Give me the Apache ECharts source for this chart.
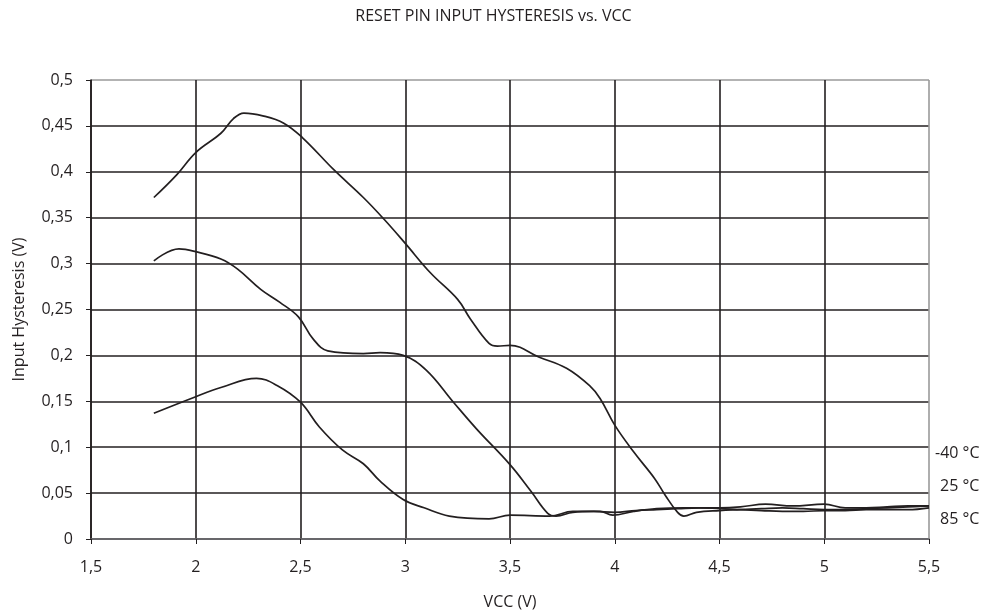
<!DOCTYPE html>
<html><head><meta charset="utf-8">
<script src="https://cdn.jsdelivr.net/npm/echarts@6/dist/echarts.min.js"></script>
<style>html,body{margin:0;padding:0;background:#fff}#c{width:987px;height:615px}</style>
</head><body><div id="c"></div>
<script>
const title = 'RESET PIN INPUT HYSTERESIS vs. VCC';
const xName = 'VCC (V)';
const yName = 'Input Hysteresis (V)';
const seriesNames = ['-40 °C', '25 °C', '85 °C'];

const vccA = [1.8, 1.91, 2.0, 2.12, 2.18, 2.23, 2.32, 2.42, 2.51, 2.66, 2.8, 2.9, 3.0, 3.12, 3.25, 3.31, 3.40, 3.44, 3.5, 3.64, 3.77, 3.88, 3.93, 4.0, 4.09, 4.19, 4.24, 4.30, 4.33, 4.39, 4.5, 4.6, 4.7, 4.8, 4.9, 5.0, 5.1, 5.2, 5.3, 5.4, 5.5];
const hystA = [0.372, 0.397, 0.421, 0.442, 0.458, 0.464, 0.461, 0.453, 0.437, 0.402, 0.372, 0.348, 0.322, 0.29, 0.261, 0.240, 0.213, 0.210, 0.211, 0.198, 0.186, 0.167, 0.153, 0.124, 0.095, 0.066, 0.048, 0.029, 0.025, 0.029, 0.031, 0.032, 0.033, 0.034, 0.033, 0.032, 0.032, 0.033, 0.034, 0.035, 0.036];

const vccB = [1.8, 1.92, 2.0, 2.12, 2.2, 2.31, 2.4, 2.49, 2.56, 2.63, 2.8, 2.88, 2.99, 3.1, 3.23, 3.34, 3.5, 3.6, 3.68, 3.72, 3.8, 3.9, 4.0, 4.1, 4.2, 4.3, 4.4, 4.5, 4.6, 4.72, 4.85, 5.0, 5.1, 5.2, 5.3, 5.4, 5.5];
const hystB = [0.303, 0.316, 0.313, 0.305, 0.294, 0.272, 0.258, 0.242, 0.218, 0.205, 0.202, 0.203, 0.200, 0.184, 0.149, 0.120, 0.081, 0.052, 0.028, 0.025, 0.029, 0.030, 0.029, 0.031, 0.032, 0.033, 0.034, 0.034, 0.035, 0.038, 0.036, 0.038, 0.034, 0.034, 0.035, 0.036, 0.036];

const vccC = [1.8, 2.0, 2.12, 2.29, 2.39, 2.5, 2.59, 2.7, 2.8, 2.88, 2.99, 3.09, 3.21, 3.4, 3.5, 3.69, 3.8, 3.93, 3.99, 4.09, 4.2, 4.33, 4.41, 4.5, 4.6, 4.7, 4.8, 4.9, 5.0, 5.1, 5.2, 5.3, 5.4, 5.5];
const hystC = [0.137, 0.155, 0.165, 0.175, 0.167, 0.149, 0.122, 0.097, 0.082, 0.063, 0.043, 0.034, 0.025, 0.022, 0.026, 0.025, 0.030, 0.030, 0.026, 0.030, 0.033, 0.034, 0.034, 0.033, 0.032, 0.031, 0.030, 0.030, 0.031, 0.031, 0.032, 0.032, 0.032, 0.034];

const dark = '#231f20';
const gray = '#9a9a9a';
const font = '"Open Sans", "Noto Sans", sans-serif';
const fmt = v => String(+v.toFixed(2)).replace('.', ',');

function pairs(xs, ys){ return xs.map((x,i)=>[x, ys[i]]); }
const datasets = [pairs(vccA,hystA), pairs(vccB,hystB), pairs(vccC,hystC)];

const chart = echarts.init(document.getElementById('c'), null, {renderer:'canvas'});
chart.setOption({
  backgroundColor:'#fff',
  animation:false,
  title:{text:title, left:'center', top:3, textStyle:{fontFamily:font, fontSize:16, fontWeight:'normal', color:dark}},
  grid:{left:91, right:58, top:80, bottom:74, show:false},
  xAxis:{type:'value', min:1.5, max:5.5, interval:0.5,
    name:xName, nameLocation:'middle', nameGap:55, nameTextStyle:{fontFamily:font, fontSize:16, color:dark},
    axisLine:{show:true, lineStyle:{color:'#6d6e71', width:1.6}},
    axisTick:{show:true, length:5, lineStyle:{color:dark}},
    axisLabel:{formatter:fmt, fontFamily:font, fontSize:16, color:dark, margin:20},
    splitLine:{show:true, lineStyle:{color:[dark,dark,dark,dark,dark,dark,dark,dark,gray], width:1.6}}},
  yAxis:{type:'value', min:0, max:0.5, interval:0.05,
    name:yName, nameLocation:'middle', nameGap:64, nameTextStyle:{fontFamily:font, fontSize:16, color:dark},
    axisLine:{show:true, lineStyle:{color:dark, width:1.6}},
    axisTick:{show:true, length:5, lineStyle:{color:dark}},
    axisLabel:{formatter:fmt, fontFamily:font, fontSize:16, color:dark, margin:18},
    splitLine:{show:true, lineStyle:{color:[dark,dark,dark,dark,dark,dark,dark,dark,dark,dark,gray], width:1.6}}},
  graphic:[
    {type:'text', left:935, top:445, style:{text:seriesNames[0], fontFamily:font, fontSize:16, fill:dark}},
    {type:'text', left:940, top:478, style:{text:seriesNames[1], fontFamily:font, fontSize:16, fill:dark}},
    {type:'text', left:940, top:511, style:{text:seriesNames[2], fontFamily:font, fontSize:16, fill:dark}}
  ],
  series: datasets.map((d,i)=>({
    name:seriesNames[i], type:'line', data:d, smooth:0.4, showSymbol:false,
    lineStyle:{color:dark, width:1.7}, z:3
  }))
});
</script></body></html>
